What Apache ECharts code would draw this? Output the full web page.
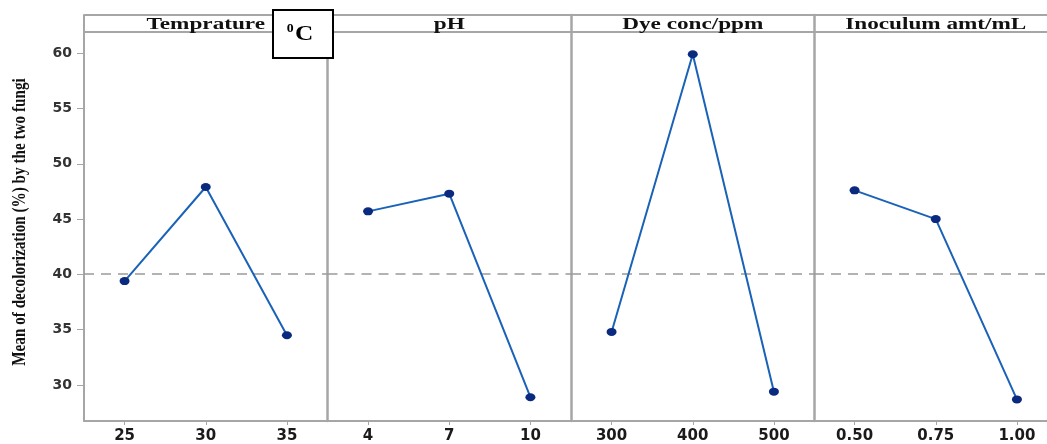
<!DOCTYPE html>
<html>
<head>
<meta charset="utf-8">
<script src="https://cdn.jsdelivr.net/npm/echarts@6/dist/echarts.min.js"></script>
<style>html,body{margin:0;padding:0;background:#fff;overflow:hidden;width:1047px;height:444px;}#c{width:1060px;height:444px;}</style>
</head>
<body>
<div id="c"></div>
<script>
// ---- data ----
const factorNames = ['Temprature', 'pH', 'Dye conc/ppm', 'Inoculum amt/mL'];
const tempLevels = ['25', '30', '35'];
const tempMeans = [39.4, 47.9, 34.5];
const phLevels = ['4', '7', '10'];
const phMeans = [45.7, 47.3, 28.9];
const dyeLevels = ['300', '400', '500'];
const dyeMeans = [34.8, 59.9, 29.4];
const inocLevels = ['0.50', '0.75', '1.00'];
const inocMeans = [47.6, 45.0, 28.7];
const grandMean = 40.1;
const yTicks = [30, 35, 40, 45, 50, 55, 60];
const yTitle = 'Mean of decolorization (%) by the two fungi';
const unitSup = '0';
const unitMain = 'C';

// ---- layout / style ----
const levels = [tempLevels, phLevels, dyeLevels, inocLevels];
const means = [tempMeans, phMeans, dyeMeans, inocMeans];
const lefts = [84, 327.5, 571, 814];
const panelW = 243.5;
const gridTop = 15, gridBottomY = 422, headerBottom = 32;
const yMin = 26.75, yMax = 63.45;
const frame = '#a6a6a6';
const W = 1060;

const chart = echarts.init(document.getElementById('c'), null, {renderer: 'canvas'});

const grids = [], xAxes = [], yAxes = [], series = [];
for (let i = 0; i < 4; i++) {
  grids.push({left: lefts[i], top: gridTop, width: panelW, height: gridBottomY - gridTop, containLabel: false});
  xAxes.push({
    type: 'category', gridIndex: i, data: levels[i], boundaryGap: true,
    axisLine: {show: true, lineStyle: {color: frame, width: 2}},
    axisTick: {show: true, alignWithLabel: true, length: 4, lineStyle: {color: frame, width: 1}},
    axisLabel: {margin: 8, color: '#1a1a1a', fontFamily: 'DejaVu Sans', fontWeight: 'bold', fontSize: 15},
    splitLine: {show: false}
  });
  yAxes.push({
    type: 'value', gridIndex: i, min: yMin, max: yMax,
    axisLine: {show: true, lineStyle: {color: frame, width: i === 0 ? 2 : 2.5}},
    axisTick: {show: i === 0, length: 7, customValues: yTicks, lineStyle: {color: frame}},
    axisLabel: {show: i === 0, customValues: yTicks, margin: 12, color: '#333', fontFamily: 'DejaVu Sans', fontWeight: 'bold', fontSize: 14},
    splitLine: {show: false}
  });
  series.push({
    type: 'line', xAxisIndex: i, yAxisIndex: i, data: means[i],
    symbol: 'circle', symbolSize: [10, 8],
    itemStyle: {color: '#0a2a80'},
    lineStyle: {color: '#1a62b8', width: 2},
    markLine: {
      silent: true, symbol: 'none', label: {show: false},
      lineStyle: {color: '#9a9a9a', type: [10, 7], width: 1.5},
      data: [{yAxis: grandMean}]
    },
    z: 5
  });
}

const graphics = [
  {type: 'line', shape: {x1: lefts[0], y1: gridTop, x2: W, y2: gridTop}, style: {stroke: frame, lineWidth: 2}, z: 10},
  {type: 'line', shape: {x1: lefts[0], y1: headerBottom, x2: W, y2: headerBottom}, style: {stroke: frame, lineWidth: 2}, z: 10}
];
for (let i = 0; i < 4; i++) {
  graphics.push({
    type: 'text', x: lefts[i] + panelW / 2, y: (gridTop + headerBottom) / 2 + 1, scaleX: 1.45, z: 11,
    style: {text: factorNames[i], fill: '#111', font: 'bold 16px "Liberation Serif"', align: 'center', verticalAlign: 'middle', textAlign: 'center', textVerticalAlign: 'middle'}
  });
}
// y axis title (condensed, rotated)
graphics.push({
  type: 'text', x: 20, y: 222, rotation: Math.PI / 2, scaleX: 0.8, z: 11,
  style: {text: yTitle, fill: '#111', font: 'bold 19px "Liberation Serif"', align: 'center', verticalAlign: 'middle', textAlign: 'center', textVerticalAlign: 'middle'}
});
graphics.push({type: 'rect', shape: {x: 273, y: 10, width: 60, height: 48}, style: {fill: '#fff', stroke: '#000', lineWidth: 2}, z: 20});
graphics.push({
  type: 'text', x: 300, y: 34, scaleX: 1.15, z: 21,
  style: {
    text: '{s|' + unitSup + '}{c|' + unitMain + '}',
    align: 'center', verticalAlign: 'middle', textAlign: 'center', textVerticalAlign: 'middle',
    rich: {
      s: {fontFamily: 'Liberation Serif', fontWeight: 'bold', fontSize: 12, fill: '#000', verticalAlign: 'top', padding: [0, 1, 9, 0]},
      c: {fontFamily: 'Liberation Serif', fontWeight: 'bold', fontSize: 22, fill: '#000'}
    }
  }
});

chart.setOption({
  animation: false,
  backgroundColor: '#fff',
  grid: grids, xAxis: xAxes, yAxis: yAxes, series: series,
  graphic: graphics
});
</script>
</body>
</html>
